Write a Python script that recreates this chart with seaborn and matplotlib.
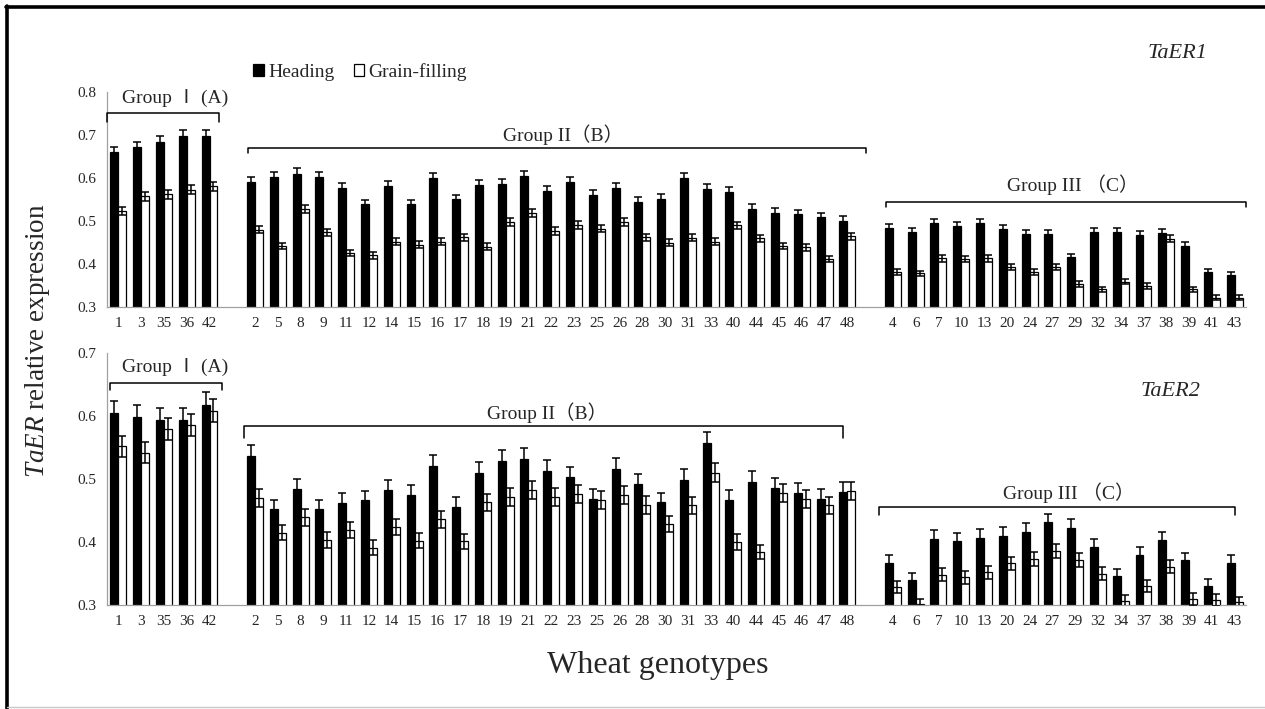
import pandas as pd
import seaborn as sns
import matplotlib.pyplot as plt
from matplotlib.lines import Line2D
from matplotlib.patches import Patch

# genotypes in each expression group
group1 = ["1", "3", "35", "36", "42"]
group2 = ["2", "5", "8", "9", "11", "12", "14", "15", "16", "17", "18", "19", "21", "22",
          "23", "25", "26", "28", "30", "31", "33", "40", "44", "45", "46", "47", "48"]
group3 = ["4", "6", "7", "10", "13", "20", "24", "27", "29", "32", "34", "37", "38", "39", "41", "43"]

# TaER1 relative expression
er1_heading = [0.660, 0.671, 0.684, 0.697, 0.697,
               0.591, 0.602, 0.610, 0.602, 0.577, 0.539, 0.581, 0.539, 0.599, 0.550, 0.584, 0.586,
               0.605, 0.570, 0.591, 0.560, 0.576, 0.545, 0.552, 0.599, 0.574, 0.568, 0.529, 0.519,
               0.516, 0.509, 0.501,
               0.484, 0.474, 0.495, 0.489, 0.495, 0.481, 0.469, 0.469, 0.416, 0.475, 0.475, 0.467,
               0.473, 0.442, 0.381, 0.375]
er1_grain = [0.523, 0.557, 0.562, 0.573, 0.581,
             0.480, 0.442, 0.528, 0.474, 0.426, 0.420, 0.452, 0.445, 0.452, 0.462, 0.440, 0.498,
             0.519, 0.477, 0.491, 0.482, 0.498, 0.462, 0.450, 0.461, 0.452, 0.490, 0.460, 0.442,
             0.439, 0.411, 0.464,
             0.382, 0.378, 0.413, 0.411, 0.413, 0.392, 0.381, 0.392, 0.353, 0.341, 0.359, 0.349,
             0.459, 0.341, 0.322, 0.322]

# TaER2 relative expression
er2_heading = [0.604, 0.598, 0.593, 0.593, 0.618,
               0.537, 0.452, 0.484, 0.452, 0.462, 0.466, 0.483, 0.475, 0.521, 0.456, 0.510, 0.529,
               0.532, 0.513, 0.503, 0.468, 0.516, 0.492, 0.463, 0.499, 0.557, 0.467, 0.496, 0.486,
               0.478, 0.468, 0.480,
               0.367, 0.339, 0.405, 0.401, 0.407, 0.410, 0.416, 0.431, 0.422, 0.392, 0.346, 0.380,
               0.403, 0.371, 0.330, 0.367]
er2_grain = [0.552, 0.542, 0.580, 0.586, 0.608,
             0.470, 0.415, 0.439, 0.403, 0.419, 0.391, 0.424, 0.402, 0.436, 0.401, 0.463, 0.472,
             0.483, 0.471, 0.476, 0.467, 0.475, 0.459, 0.429, 0.458, 0.510, 0.400, 0.384, 0.478,
             0.468, 0.458, 0.481,
             0.329, 0.301, 0.348, 0.344, 0.352, 0.366, 0.373, 0.386, 0.371, 0.350, 0.306, 0.330,
             0.361, 0.309, 0.308, 0.304]

# percentage error bars (as in the original spreadsheet chart)
er1_err_pct = {"Heading": 0.020, "Grain-filling": 0.018}
er2_err_pct = {"Heading": 0.033, "Grain-filling": 0.030}

stages = ["Heading", "Grain-filling"]
group_names = ["Group \u2160 (A)", "Group II\uff08B\uff09", "Group III \uff08C\uff09"]

genotypes = group1 + group2 + group3
order = group1 + ["gap1"] + group2 + ["gap2"] + group3
tick_labels = ["" if o.startswith("gap") else o for o in order]

sns.set_style("white")
plt.rcParams["font.family"] = ["Liberation Serif", "Noto Sans CJK SC", "DejaVu Sans"]
plt.rcParams["mathtext.fontset"] = "custom"
plt.rcParams["mathtext.it"] = "Liberation Serif:italic"
plt.rcParams["mathtext.rm"] = "Liberation Serif"

W, H = 1265, 709
fig = plt.figure(figsize=(W / 100, H / 100), dpi=100)
ax1 = fig.add_axes([107 / W, 1 - 307 / H, 1139 / W, 215 / H])
ax2 = fig.add_axes([107 / W, 1 - 605 / H, 1139 / W, 252 / H])


def long_df(heading, grain):
    return pd.DataFrame({
        "genotype": genotypes * 2,
        "stage": ["Heading"] * len(genotypes) + ["Grain-filling"] * len(genotypes),
        "value": list(heading) + list(grain),
    })


def draw_panel(ax, df, err_pct, ylim, yticks):
    sns.barplot(data=df, x="genotype", y="value", hue="stage", order=order,
                hue_order=stages, palette={"Heading": "black", "Grain-filling": "white"},
                width=0.7, errorbar=None, edgecolor="black", linewidth=0.9,
                legend=False, ax=ax)
    for cont, stage in zip(ax.containers, stages):
        xs = [p.get_x() + p.get_width() / 2 for p in cont.patches]
        hs = [p.get_height() for p in cont.patches]
        ax.errorbar(xs, hs, yerr=[h * err_pct[stage] for h in hs], fmt="none",
                    ecolor="black", elinewidth=1.1, capsize=2.6, capthick=1.1, zorder=5)
    ax.set_xlim(-0.5, len(order) - 0.5)
    ax.set_ylim(*ylim)
    ax.set_yticks(yticks)
    ax.set_yticklabels([f"{t:.1f}" for t in yticks], fontsize=11)
    ax.set_xticks(range(len(order)))
    ax.set_xticklabels(tick_labels, fontsize=11)
    ax.set_xticks([i - 0.5 for i in range(len(order) + 1)], minor=True)
    ax.tick_params(axis="x", which="major", length=0, pad=7)
    ax.tick_params(axis="x", which="minor", length=4, color="#a0a0a0", width=0.9, direction="out")
    ax.tick_params(axis="y", length=4, color="#a0a0a0", width=0.9, direction="out", pad=4)
    ax.set_xlabel("")
    ax.set_ylabel("")
    for s in ["top", "right"]:
        ax.spines[s].set_visible(False)
    for s in ["left", "bottom"]:
        ax.spines[s].set_color("#a0a0a0")
        ax.spines[s].set_linewidth(0.9)
    ax.set_facecolor("none")


def bracket(ax, x0, x1, y, drop, label, tx, ty):
    ax.plot([x0, x0, x1, x1], [y - drop, y, y, y - drop], color="black", lw=1.1,
            clip_on=False, zorder=6)
    ax.text(tx, ty, label, ha="center", va="center", fontsize=14)


draw_panel(ax1, long_df(er1_heading, er1_grain), er1_err_pct, (0.3, 0.8),
           [0.3, 0.4, 0.5, 0.6, 0.7, 0.8])
draw_panel(ax2, long_df(er2_heading, er2_grain), er2_err_pct, (0.3, 0.7),
           [0.3, 0.4, 0.5, 0.6, 0.7])

# group brackets
bracket(ax1, -0.5, 4.4, 0.751, 0.021, group_names[0], 2.5, 0.786)
bracket(ax1, 5.7, 32.8, 0.670, 0.012, group_names[1], 19.5, 0.700)
bracket(ax1, 33.7, 49.5, 0.544, 0.011, group_names[2], 41.9, 0.584)
bracket(ax2, -0.37, 4.54, 0.652, 0.011, group_names[0], 2.5, 0.678)
bracket(ax2, 5.5, 31.8, 0.584, 0.019, group_names[1], 18.8, 0.605)
bracket(ax2, 33.4, 49.0, 0.456, 0.013, group_names[2], 41.7, 0.479)

# gene names
fig.text(1177 / W, 1 - 53 / H, "TaER1", fontsize=16, style="italic", ha="center", va="center")
fig.text(1170 / W, 1 - 392 / H, "TaER2", fontsize=16, style="italic", ha="center", va="center")

# legend
handles = [Patch(facecolor="black", edgecolor="black", lw=0.9),
           Patch(facecolor="white", edgecolor="black", lw=0.9)]
fig.legend(handles, stages, loc="center", bbox_to_anchor=(360 / W, 1 - 72 / H), ncol=2,
           frameon=False, fontsize=14, handlelength=0.55, handleheight=0.55,
           handletextpad=0.2, columnspacing=1.0)

# axis titles
fig.text(38 / W, 1 - 341 / H, r"$\mathit{TaER}$ relative expression", fontsize=19.5,
         rotation=90, ha="center", va="center")
fig.text(658 / W, 1 - 665 / H, "Wheat genotypes", fontsize=23, ha="center", va="center")

# outer frame
fig.add_artist(Line2D([7.5 / W, 7.5 / W], [0, 1 - 6 / H], color="black", lw=2.6))
fig.add_artist(Line2D([6 / W, 1], [1 - 7 / H, 1 - 7 / H], color="black", lw=2.6))
fig.add_artist(Line2D([7.5 / W, 1], [1 - 707 / H, 1 - 707 / H], color="#c8c8c8", lw=1.0))

fig.savefig("out.png", dpi=100)
